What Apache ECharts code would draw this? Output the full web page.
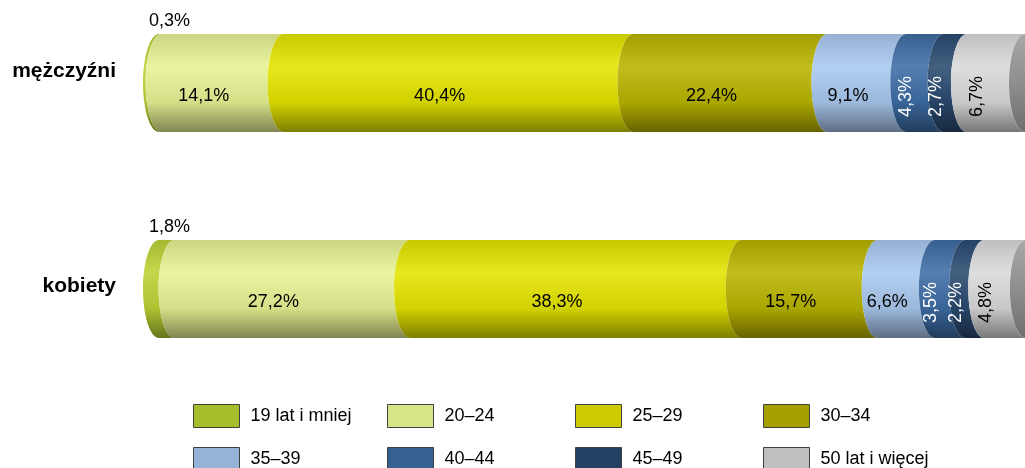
<!DOCTYPE html>
<html>
<head>
<meta charset="utf-8">
<script src="https://cdn.jsdelivr.net/npm/echarts@6/dist/echarts.min.js"></script>
<style>
html,body{margin:0;padding:0;background:#fff;}
#chart{width:1025px;height:468px;}
</style>
</head>
<body>
<div id="chart"></div>
<script>
const categories = ['mężczyźni', 'kobiety'];
const ageGroups = ['19 lat i mniej', '20–24', '25–29', '30–34', '35–39', '40–44', '45–49', '50 lat i więcej'];
const men = [0.3, 14.1, 40.4, 22.4, 9.1, 4.3, 2.7, 6.7];
const women = [1.8, 27.2, 38.3, 15.7, 6.6, 3.5, 2.2, 4.8];

const legendColors = ['#A8BE2C', '#D8E589', '#CCCC00', '#A5A000', '#95B3D7', '#366092', '#244062', '#BFBFBF'];
const barColors = ['#BCD235', '#E8F294', '#E4E400', '#B9B400', '#A9C8EF', '#3E6DA5', '#2A4A70', '#D9D9D9'];
const labelColors = ['#000', '#000', '#000', '#000', '#000', '#fff', '#fff', '#000'];
const rotatedLabel = [false, false, false, false, false, true, true, true];

function shade(hex, f) {
  const n = parseInt(hex.slice(1), 16);
  let r = (n >> 16) & 255, g = (n >> 8) & 255, b = n & 255;
  if (f < 1) { r *= f; g *= f; b *= f; }
  else { const t = f - 1; r += (255 - r) * t; g += (255 - g) * t; b += (255 - b) * t; }
  return 'rgb(' + Math.round(r) + ',' + Math.round(g) + ',' + Math.round(b) + ')';
}
function cylGrad(c) {
  return new echarts.graphic.LinearGradient(0, 0, 0, 1, [
    { offset: 0, color: shade(c, 0.88) },
    { offset: 0.33, color: shade(c, 1.12) },
    { offset: 0.7, color: shade(c, 0.92) },
    { offset: 1, color: shade(c, 0.55) }
  ]);
}
function fmt(v) { return v.toFixed(1).replace('.', ',') + '%'; }

const K = 0.5523;
function segPath(x0, x1, cy, rx, ry) {
  const t = cy - ry, b = cy + ry;
  return 'M' + x0 + ',' + t +
    'C' + (x0 - K * rx) + ',' + t + ',' + (x0 - rx) + ',' + (cy - K * ry) + ',' + (x0 - rx) + ',' + cy +
    'C' + (x0 - rx) + ',' + (cy + K * ry) + ',' + (x0 - K * rx) + ',' + b + ',' + x0 + ',' + b +
    'L' + x1 + ',' + b +
    'C' + (x1 - K * rx) + ',' + b + ',' + (x1 - rx) + ',' + (cy + K * ry) + ',' + (x1 - rx) + ',' + cy +
    'C' + (x1 - rx) + ',' + (cy - K * ry) + ',' + (x1 - K * rx) + ',' + t + ',' + x1 + ',' + t + 'Z';
}
function ellPath(cx, cy, rx, ry) {
  return 'M' + cx + ',' + (cy - ry) +
    'C' + (cx - K * rx) + ',' + (cy - ry) + ',' + (cx - rx) + ',' + (cy - K * ry) + ',' + (cx - rx) + ',' + cy +
    'C' + (cx - rx) + ',' + (cy + K * ry) + ',' + (cx - K * rx) + ',' + (cy + ry) + ',' + cx + ',' + (cy + ry) +
    'C' + (cx + K * rx) + ',' + (cy + ry) + ',' + (cx + rx) + ',' + (cy + K * ry) + ',' + (cx + rx) + ',' + cy +
    'C' + (cx + rx) + ',' + (cy - K * ry) + ',' + (cx + K * rx) + ',' + (cy - ry) + ',' + cx + ',' + (cy - ry) + 'Z';
}

const groupsData = [men, women];
const starts = groupsData.map(arr => { let s = 0; return arr.map(v => { const r = s; s += v; return r; }); });

const series = ageGroups.map((name, i) => ({
  name: name,
  type: 'custom',
  itemStyle: { color: legendColors[i] },
  data: categories.map((c, ci) => [groupsData[ci][i], ci, starts[ci][i]]),
  renderItem: function (params, api) {
    const val = api.value(0), cat = api.value(1), st = api.value(2);
    const p0 = api.coord([st, cat]);
    const p1 = api.coord([st + val, cat]);
    const cy = p0[1], ry = 49, rx = 16;
    const children = [{
      type: 'path',
      shape: { pathData: segPath(p0[0], p1[0], cy, rx, ry) },
      style: { fill: cylGrad(barColors[i]) }
    }];
    if (i === ageGroups.length - 1) {
      children.push({
        type: 'path',
        shape: { pathData: ellPath(p1[0], cy, rx, ry) },
        style: { fill: new echarts.graphic.LinearGradient(0, 0, 0, 1, [
          { offset: 0, color: '#a8a8a8' }, { offset: 0.5, color: '#8e8e8e' }, { offset: 1, color: '#6e6e6e' }]) }
      });
    }
    const font = '18px "Liberation Sans", Arial, sans-serif';
    if (i === 0) {
      children.push({
        type: 'text', x: p0[0] - 10, y: cy - ry - 13,
        style: { text: fmt(val), fill: '#000', font: font, align: 'left', verticalAlign: 'middle' }
      });
    } else {
      const mx = (p0[0] + p1[0]) / 2 - 19;
      children.push({
        type: 'text', x: mx, y: cy + 13.5, rotation: rotatedLabel[i] ? Math.PI / 2 : 0,
        style: { text: fmt(val), fill: labelColors[i], font: font, align: 'center', verticalAlign: 'middle' }
      });
    }
    return { type: 'group', children: children };
  }
}));

const legendCols = [193, 387, 575, 763];
const legendRows = [404, 447];
const legends = ageGroups.map((name, i) => ({
  left: legendCols[i % 4],
  top: legendRows[Math.floor(i / 4)],
  orient: 'horizontal',
  selectedMode: false,
  itemWidth: 46,
  itemHeight: 23,
  padding: 0,
  textStyle: { fontSize: 18, color: '#000', fontFamily: '"Liberation Sans", Arial', padding: [0, 0, 0, 6] },
  data: [{ name: name, icon: 'rect', itemStyle: { color: legendColors[i], borderColor: '#404040', borderWidth: 1 } }]
}));

const chart = echarts.init(document.getElementById('chart'));
chart.setOption({
  animation: false,
  backgroundColor: '#fff',
  grid: { left: 159, right: 0, top: 83, height: 206, containLabel: false },
  xAxis: { type: 'value', min: 0, max: 100, show: false },
  yAxis: {
    type: 'category', data: categories, inverse: true, boundaryGap: false,
    axisLine: { show: false }, axisTick: { show: false }, splitLine: { show: false },
    axisLabel: {
      margin: 43,
      formatter: function (v, idx) { return idx === 0 ? '{a|' + v + '}' : '{b|' + v + '}'; },
      rich: {
        a: { fontSize: 21, fontWeight: 'bold', color: '#000', fontFamily: '"Liberation Sans", Arial', padding: [0, 0, 23, 0] },
        b: { fontSize: 21, fontWeight: 'bold', color: '#000', fontFamily: '"Liberation Sans", Arial', padding: [0, 0, 5, 0] }
      }
    }
  },
  legend: legends,
  series: series
});
</script>
</body>
</html>
